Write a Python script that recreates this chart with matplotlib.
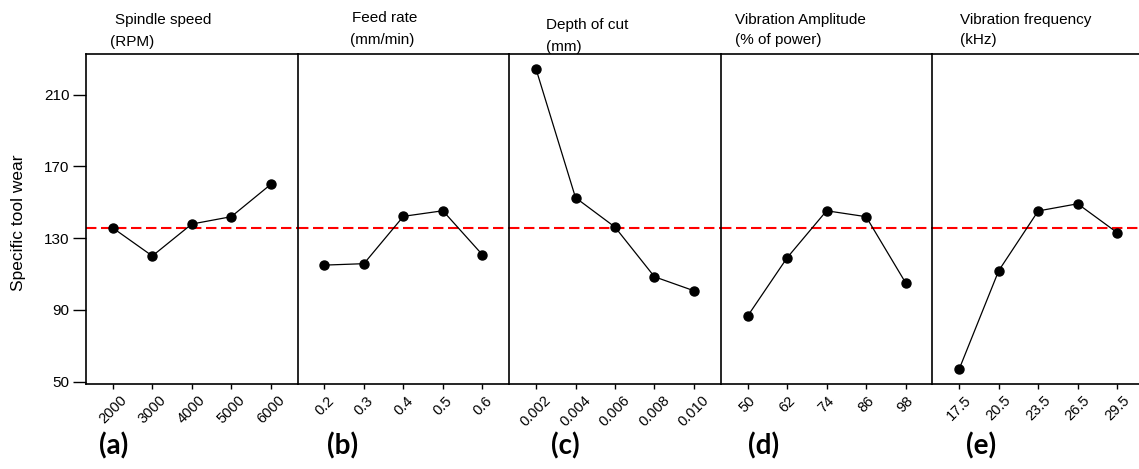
import matplotlib
matplotlib.use("Agg")
import matplotlib.pyplot as plt
from matplotlib.transforms import ScaledTranslation

# factor levels (x tick labels) and mean specific tool wear per level
spindle_speed = ['2000', '3000', '4000', '5000', '6000']
wear_spindle = [135.7, 120.1, 137.9, 142.0, 160.0]

feed_rate = ['0.2', '0.3', '0.4', '0.5', '0.6']
wear_feed = [115.0, 115.8, 142.2, 145.3, 120.8]

depth_of_cut = ['0.002', '0.004', '0.006', '0.008', '0.010']
wear_depth = [224.3, 152.6, 136.2, 108.5, 100.7]

vib_amplitude = ['50', '62', '74', '86', '98']
wear_amplitude = [86.6, 119.1, 145.3, 142.0, 105.2]

vib_frequency = ['17.5', '20.5', '23.5', '26.5', '29.5']
wear_frequency = [57.1, 111.9, 145.2, 149.2, 133.1]

grand_mean = 135.5

titles = [('Spindle speed', '(RPM)'),
          ('Feed rate', '(mm/min)'),
          ('Depth of cut', '(mm)'),
          ('Vibration Amplitude', '(% of power)'),
          ('Vibration frequency', '(kHz)')]
panel_tags = ['(a)', '(b)', '(c)', '(d)', '(e)']
yticks = [50, 90, 130, 170, 210]

levels = [spindle_speed, feed_rate, depth_of_cut, vib_amplitude, vib_frequency]
wear = [wear_spindle, wear_feed, wear_depth, wear_amplitude, wear_frequency]

plt.rcParams['font.family'] = ['Liberation Sans', 'DejaVu Sans']

W, H = 1139, 469
fig = plt.figure(figsize=(W / 100, H / 100), dpi=100)

ax_left, ax_top, ax_bottom = 86, 54, 384.3
panel_w = 211.6
title_pos = [(115, 110, 20, 42), (352, 350, 18, 40), (546, 546, 25, 47),
             (735, 735, 20, 40), (960, 960, 20, 40)]
tag_x = [114, 343, 565, 764, 981]

for i in range(5):
    left = ax_left + i * panel_w
    ax = fig.add_axes([left / W, 1 - ax_bottom / H, panel_w / W, (ax_bottom - ax_top) / H])
    x = list(range(len(levels[i])))
    ax.plot(x, wear[i], color='black', lw=0.9, marker='o', ms=6.5, zorder=3)
    ax.axhline(grand_mean, color='red', lw=1.5, ls=(0, (5, 2.2)), zorder=2)
    ax.set_xlim(-0.68, 4.68)
    ax.set_ylim(48.55, 232.7)
    ax.set_xticks(x)
    ax.set_xticklabels(levels[i], rotation=45, fontsize=10.5)
    for lab in ax.get_xticklabels():
        lab.set_transform(lab.get_transform() + ScaledTranslation(-4 / 100, 0, fig.dpi_scale_trans))
    ax.tick_params(axis='x', length=3.6, width=1, pad=3)
    if i == 0:
        ax.set_yticks(yticks)
        ax.tick_params(axis='y', length=9.5, width=1, pad=2.5, labelsize=11)
        ax.set_ylabel('Specific tool wear', fontsize=12.5)
        ax.yaxis.set_label_coords(-0.285, 0.49)
    else:
        ax.set_yticks([])
    for side in ['left', 'right', 'top', 'bottom']:
        ax.spines[side].set_linewidth(1.2)
    ax.spines['right'].set_visible(i == 4)

    l1x, l2x, l1y, l2y = title_pos[i]
    fig.text(l1x / W, 1 - l1y / H, titles[i][0], fontsize=11, va='center', ha='left')
    fig.text(l2x / W, 1 - l2y / H, titles[i][1], fontsize=11, va='center', ha='left')
    fig.text(tag_x[i] / W, 1 - 446 / H, panel_tags[i], fontsize=20, fontweight='bold',
             family=['Lato', 'DejaVu Sans'], ha='center', va='center')

fig.savefig('out.png', dpi=100)
